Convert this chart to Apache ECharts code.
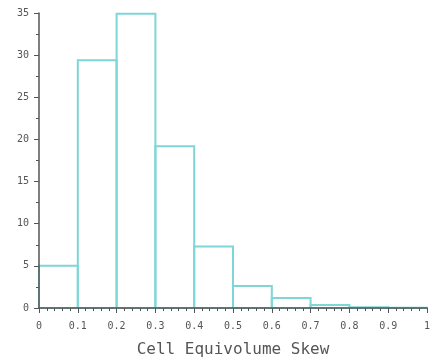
<!DOCTYPE html>
<html><head><meta charset="utf-8">
<script src="https://cdn.jsdelivr.net/npm/echarts@6/dist/echarts.min.js"></script>
<style>html,body{margin:0;padding:0;background:#fff}#c{width:430px;height:364px}</style>
</head><body><div id="c"></div>
<script>
const binStarts = [0, 0.1, 0.2, 0.3, 0.4, 0.5, 0.6, 0.7, 0.8, 0.9];
const binEnds   = [0.1, 0.2, 0.3, 0.4, 0.5, 0.6, 0.7, 0.8, 0.9, 1.0];
const counts    = [5.0, 29.4, 34.9, 19.2, 7.3, 2.6, 1.2, 0.35, 0.1, 0.03];
const xTitle = 'Cell Equivolume Skew';

const data = binStarts.map((s, i) => [s, binEnds[i], counts[i]]);
const chart = echarts.init(document.getElementById('c'), null, {renderer: 'canvas'});
const font = 'DejaVu Sans Mono';
chart.setOption({
  animation: false,
  backgroundColor: '#fff',
  grid: {left: 39, right: 3, top: 13, bottom: 56, containLabel: false, outerBoundsMode: 'none'},
  xAxis: {
    type: 'value', min: 0, max: 1, interval: 0.1, z: 5,
    name: xTitle, nameLocation: 'middle', nameGap: 34,
    nameTextStyle: {fontFamily: font, fontSize: 16, color: '#555'},
    axisLine: {show: true, lineStyle: {color: '#555', width: 1.5}},
    axisTick: {show: true, inside: false, length: 5, lineStyle: {color: '#555'}},
    minorTick: {show: true, splitNumber: 5, length: 3, lineStyle: {color: '#555'}},
    splitLine: {show: false},
    axisLabel: {fontFamily: font, fontSize: 10, color: '#555', margin: 13,
      formatter: v => (Math.round(v * 10) / 10).toString()}
  },
  yAxis: {
    type: 'value', min: 0, max: 35, interval: 5, z: 5,
    axisLine: {show: true, lineStyle: {color: '#555', width: 1.5}},
    axisTick: {show: true, length: 5, lineStyle: {color: '#555'}},
    minorTick: {show: true, splitNumber: 2, length: 3, lineStyle: {color: '#555'}},
    splitLine: {show: false},
    axisLabel: {fontFamily: font, fontSize: 10, color: '#555', margin: 10}
  },
  series: [{
    type: 'custom',
    z: 1,
    data: data,
    encode: {x: [0, 1], y: 2},
    renderItem: (params, api) => {
      const p0 = api.coord([api.value(0), 0]);
      const p1 = api.coord([api.value(1), api.value(2)]);
      return {
        type: 'rect',
        shape: {x: p0[0], y: p1[1], width: p1[0] - p0[0], height: p0[1] - p1[1]},
        style: {fill: 'rgba(255,255,255,0)', stroke: '#7fd6d6', lineWidth: 2}
      };
    }
  }]
});
</script></body></html>
